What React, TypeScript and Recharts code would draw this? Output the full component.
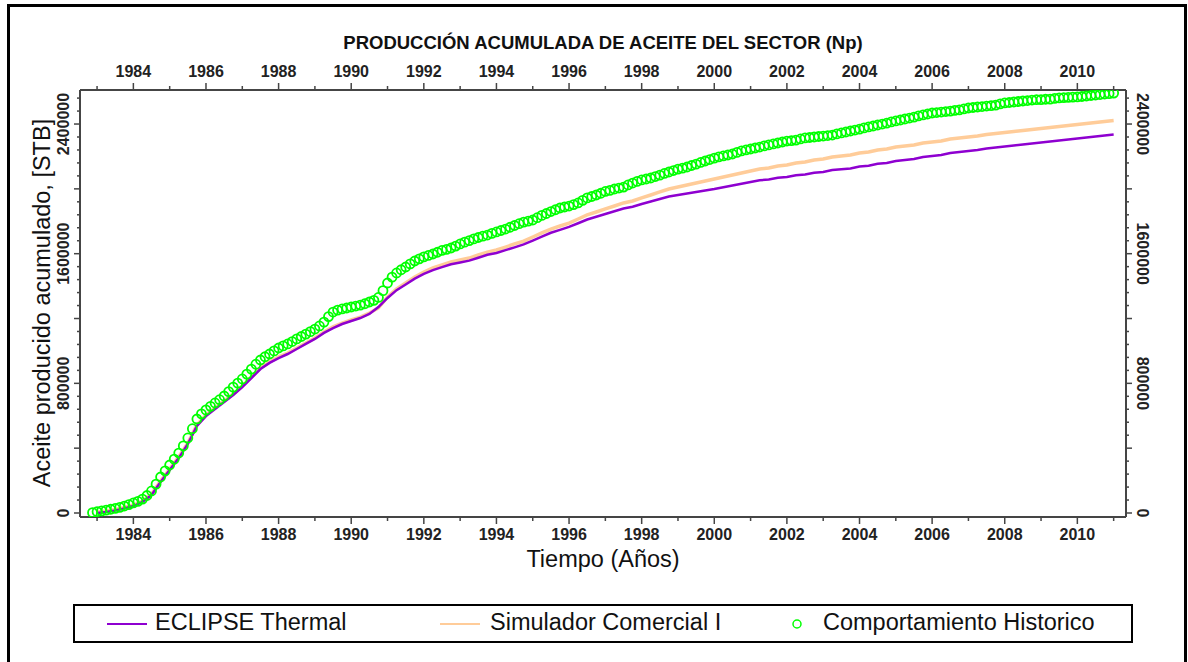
import { ComposedChart, Line, XAxis, YAxis } from "recharts";

// simulation output, quarterly, decimal years
const YEARS = [
  1983, 1983.25, 1983.5, 1983.75, 1984, 1984.25, 1984.5, 1984.75,
  1985, 1985.25, 1985.5, 1985.75, 1986, 1986.25, 1986.5, 1986.75,
  1987, 1987.25, 1987.5, 1987.75, 1988, 1988.25, 1988.5, 1988.75,
  1989, 1989.25, 1989.5, 1989.75, 1990, 1990.25, 1990.5, 1990.75,
  1991, 1991.25, 1991.5, 1991.75, 1992, 1992.25, 1992.5, 1992.75,
  1993, 1993.25, 1993.5, 1993.75, 1994, 1994.25, 1994.5, 1994.75,
  1995, 1995.25, 1995.5, 1995.75, 1996, 1996.25, 1996.5, 1996.75,
  1997, 1997.25, 1997.5, 1997.75, 1998, 1998.25, 1998.5, 1998.75,
  1999, 1999.25, 1999.5, 1999.75, 2000, 2000.25, 2000.5, 2000.75,
  2001, 2001.25, 2001.5, 2001.75, 2002, 2002.25, 2002.5, 2002.75,
  2003, 2003.25, 2003.5, 2003.75, 2004, 2004.25, 2004.5, 2004.75,
  2005, 2005.25, 2005.5, 2005.75, 2006, 2006.25, 2006.5, 2006.75,
  2007, 2007.25, 2007.5, 2007.75, 2008, 2008.25, 2008.5, 2008.75,
  2009, 2009.25, 2009.5, 2009.75, 2010, 2010.25, 2010.5, 2010.75,
  2011,
];

const ECLIPSE = [
  0, 6000, 15000, 28000, 43000, 68000, 111000, 191000,
  265000, 339000, 426000, 537000, 598000, 642000, 685000, 728000,
  777000, 833000, 888000, 926000, 956000, 981000, 1012000, 1043000,
  1074000, 1111000, 1141000, 1166000, 1185000, 1203000, 1228000, 1271000,
  1327000, 1375000, 1410000, 1446000, 1475000, 1499000, 1517000, 1535000,
  1546000, 1557000, 1575000, 1593000, 1604000, 1622000, 1639000, 1657000,
  1681000, 1705000, 1729000, 1747000, 1765000, 1788000, 1811000, 1828000,
  1845000, 1862000, 1879000, 1890000, 1907000, 1922000, 1937000, 1953000,
  1962000, 1971000, 1981000, 1990000, 1999000, 2010000, 2021000, 2031000,
  2042000, 2053000, 2058000, 2068000, 2073000, 2084000, 2089000, 2099000,
  2104000, 2116000, 2121000, 2126000, 2138000, 2143000, 2155000, 2160000,
  2172000, 2178000, 2184000, 2197000, 2203000, 2209000, 2221000, 2227000,
  2234000, 2240000, 2249000, 2255000, 2261000, 2268000, 2274000, 2280000,
  2286000, 2292000, 2298000, 2305000, 2311000, 2317000, 2323000, 2329000,
  2335000,
];

const COMERCIAL = [
  6000, 12000, 22000, 34000, 49000, 74000, 117000, 197000,
  271000, 346000, 432000, 543000, 605000, 648000, 691000, 734000,
  784000, 839000, 895000, 932000, 963000, 987000, 1018000, 1049000,
  1080000, 1117000, 1148000, 1172000, 1191000, 1209000, 1234000, 1265000,
  1333000, 1382000, 1419000, 1456000, 1487000, 1512000, 1530000, 1549000,
  1561000, 1573000, 1592000, 1610000, 1623000, 1641000, 1660000, 1678000,
  1703000, 1728000, 1752000, 1771000, 1789000, 1814000, 1839000, 1857000,
  1876000, 1894000, 1913000, 1925000, 1944000, 1962000, 1981000, 1999000,
  2011000, 2024000, 2036000, 2048000, 2061000, 2073000, 2085000, 2098000,
  2110000, 2122000, 2129000, 2141000, 2147000, 2159000, 2166000, 2178000,
  2184000, 2196000, 2203000, 2209000, 2221000, 2227000, 2240000, 2246000,
  2258000, 2264000, 2271000, 2283000, 2289000, 2295000, 2308000, 2314000,
  2320000, 2326000, 2335000, 2342000, 2348000, 2354000, 2360000, 2366000,
  2372000, 2379000, 2385000, 2391000, 2397000, 2403000, 2409000, 2416000,
  2422000,
];

// field history, every 1/8 year
const HIST_YEARS = [
  1982.875,
  1983, 1983.125, 1983.25, 1983.375, 1983.5, 1983.625, 1983.75, 1983.875,
  1984, 1984.125, 1984.25, 1984.375, 1984.5, 1984.625, 1984.75, 1984.875,
  1985, 1985.125, 1985.25, 1985.375, 1985.5, 1985.625, 1985.75, 1985.875,
  1986, 1986.125, 1986.25, 1986.375, 1986.5, 1986.625, 1986.75, 1986.875,
  1987, 1987.125, 1987.25, 1987.375, 1987.5, 1987.625, 1987.75, 1987.875,
  1988, 1988.125, 1988.25, 1988.375, 1988.5, 1988.625, 1988.75, 1988.875,
  1989, 1989.125, 1989.25, 1989.375, 1989.5, 1989.625, 1989.75, 1989.875,
  1990, 1990.125, 1990.25, 1990.375, 1990.5, 1990.625, 1990.75, 1990.875,
  1991, 1991.125, 1991.25, 1991.375, 1991.5, 1991.625, 1991.75, 1991.875,
  1992, 1992.125, 1992.25, 1992.375, 1992.5, 1992.625, 1992.75, 1992.875,
  1993, 1993.125, 1993.25, 1993.375, 1993.5, 1993.625, 1993.75, 1993.875,
  1994, 1994.125, 1994.25, 1994.375, 1994.5, 1994.625, 1994.75, 1994.875,
  1995, 1995.125, 1995.25, 1995.375, 1995.5, 1995.625, 1995.75, 1995.875,
  1996, 1996.125, 1996.25, 1996.375, 1996.5, 1996.625, 1996.75, 1996.875,
  1997, 1997.125, 1997.25, 1997.375, 1997.5, 1997.625, 1997.75, 1997.875,
  1998, 1998.125, 1998.25, 1998.375, 1998.5, 1998.625, 1998.75, 1998.875,
  1999, 1999.125, 1999.25, 1999.375, 1999.5, 1999.625, 1999.75, 1999.875,
  2000, 2000.125, 2000.25, 2000.375, 2000.5, 2000.625, 2000.75, 2000.875,
  2001, 2001.125, 2001.25, 2001.375, 2001.5, 2001.625, 2001.75, 2001.875,
  2002, 2002.125, 2002.25, 2002.375, 2002.5, 2002.625, 2002.75, 2002.875,
  2003, 2003.125, 2003.25, 2003.375, 2003.5, 2003.625, 2003.75, 2003.875,
  2004, 2004.125, 2004.25, 2004.375, 2004.5, 2004.625, 2004.75, 2004.875,
  2005, 2005.125, 2005.25, 2005.375, 2005.5, 2005.625, 2005.75, 2005.875,
  2006, 2006.125, 2006.25, 2006.375, 2006.5, 2006.625, 2006.75, 2006.875,
  2007, 2007.125, 2007.25, 2007.375, 2007.5, 2007.625, 2007.75, 2007.875,
  2008, 2008.125, 2008.25, 2008.375, 2008.5, 2008.625, 2008.75, 2008.875,
  2009, 2009.125, 2009.25, 2009.375, 2009.5, 2009.625, 2009.75, 2009.875,
  2010, 2010.125, 2010.25, 2010.375, 2010.5, 2010.625, 2010.75, 2010.875,
  2011,
];

const HISTORICO = [
  2000,
  8000, 13000, 18000, 23000, 28000, 35000, 43000, 52000,
  62000, 72000, 86000, 108000, 136000, 178000, 222000, 260000,
  296000, 332000, 370000, 414000, 463000, 520000, 580000, 612000,
  636000, 658000, 679000, 699000, 722000, 749000, 777000, 801000,
  827000, 857000, 888000, 918000, 944000, 964000, 981000, 1000000,
  1018000, 1031000, 1043000, 1058000, 1074000, 1089000, 1104000, 1119000,
  1135000, 1154000, 1178000, 1212000, 1240000, 1252000, 1259000, 1265000,
  1271000, 1277000, 1283000, 1291000, 1302000, 1312000, 1330000, 1372000,
  1419000, 1455000, 1481000, 1501000, 1518000, 1537000, 1555000, 1568000,
  1580000, 1589000, 1598000, 1609000, 1620000, 1627000, 1635000, 1647000,
  1660000, 1671000, 1681000, 1691000, 1700000, 1708000, 1715000, 1725000,
  1734000, 1743000, 1752000, 1763000, 1774000, 1785000, 1795000, 1801000,
  1808000, 1822000, 1836000, 1848000, 1860000, 1871000, 1882000, 1888000,
  1894000, 1903000, 1913000, 1929000, 1944000, 1953000, 1962000, 1973000,
  1984000, 1991000, 1999000, 2005000, 2011000, 2024000, 2036000, 2046000,
  2055000, 2061000, 2067000, 2076000, 2085000, 2095000, 2104000, 2113000,
  2122000, 2128000, 2135000, 2144000, 2153000, 2163000, 2172000, 2181000,
  2190000, 2197000, 2203000, 2209000, 2215000, 2225000, 2234000, 2240000,
  2246000, 2252000, 2258000, 2265000, 2271000, 2277000, 2283000, 2289000,
  2295000, 2298000, 2301000, 2308000, 2314000, 2317000, 2320000, 2323000,
  2326000, 2329000, 2332000, 2339000, 2345000, 2351000, 2357000, 2363000,
  2369000, 2376000, 2382000, 2388000, 2394000, 2400000, 2406000, 2413000,
  2419000, 2425000, 2431000, 2437000, 2443000, 2450000, 2456000, 2462000,
  2468000, 2471000, 2474000, 2477000, 2480000, 2484000, 2487000, 2493000,
  2499000, 2502000, 2505000, 2508000, 2511000, 2514000, 2517000, 2524000,
  2530000, 2533000, 2536000, 2539000, 2542000, 2545000, 2548000, 2550000,
  2551000, 2553000, 2554000, 2558000, 2561000, 2563000, 2564000, 2566000,
  2567000, 2570000, 2573000, 2576000, 2579000, 2582000, 2585000, 2588000,
  2591000,
];

const YEAR_LABELS = [1984, 1986, 1988, 1990, 1992, 1994, 1996, 1998, 2000, 2002, 2004, 2006, 2008, 2010];
const NP_LABELS = [0, 800000, 1600000, 2400000];
const SERIES = ["ECLIPSE Thermal", "Simulador Comercial I", "Comportamiento Historico"];
const COLORS = ["#8e00d0", "#ffcc99", "#00ff00"];

const TITLE = "PRODUCCIÓN ACUMULADA DE ACEITE DEL SECTOR (Np)";
const X_TITLE = "Tiempo (Años)";
const Y_TITLE = "Aceite producido acumulado, [STB]";

const AXIS = "#454545";
const FONT = "'Liberation Sans', Arial, sans-serif";

// yearly minor ticks, 80000 STB minor ticks
const X_TICKS: number[] = [];
for (let yr = 1983; yr <= 2011; yr++) X_TICKS.push(yr);
const Y_TICKS: number[] = [];
for (let v = 0; v <= 2560000; v += 80000) Y_TICKS.push(v);

const rows = YEARS.map((t, i) => ({
  t,
  eclipse: ECLIPSE[i],
  comercial: COMERCIAL[i],
}));
const histRows = HIST_YEARS.map((t, i) => ({ t, historico: HISTORICO[i] }));

function BottomTick({ x, y, payload }: any) {
  const major = YEAR_LABELS.includes(payload.value);
  return (
    <g>
      <line x1={x} x2={x} y1={y} y2={y + (major ? 7 : 4)} stroke={AXIS} strokeWidth={1.5} />
      {major && (
        <text x={x} y={y + 23} textAnchor="middle" fontSize={16} fontWeight="bold" fill="#222">
          {payload.value}
        </text>
      )}
    </g>
  );
}

function TopTick({ x, y, payload }: any) {
  const major = YEAR_LABELS.includes(payload.value);
  return (
    <g>
      <line x1={x} x2={x} y1={y} y2={y - (major ? 7 : 4)} stroke={AXIS} strokeWidth={1.5} />
      {major && (
        <text x={x} y={y - 13} textAnchor="middle" fontSize={16} fontWeight="bold" fill="#222">
          {payload.value}
        </text>
      )}
    </g>
  );
}

function LeftTick({ x, y, payload }: any) {
  const v = payload.value;
  const major = v % 400000 === 0;
  const tx = x - 11;
  return (
    <g>
      <line x1={x - (major ? 6 : 3)} x2={x} y1={y} y2={y} stroke={AXIS} strokeWidth={1.5} />
      {NP_LABELS.includes(v) && (
        <text x={tx} y={y} transform={`rotate(-90, ${tx}, ${y})`} textAnchor="middle" fontSize={16} fontWeight="bold" fill="#222">
          {v}
        </text>
      )}
    </g>
  );
}

function RightTick({ x, y, payload }: any) {
  const v = payload.value;
  const major = v % 400000 === 0;
  const tx = x + 11;
  return (
    <g>
      <line x1={x} x2={x + (major ? 6 : 3)} y1={y} y2={y} stroke={AXIS} strokeWidth={1.5} />
      {NP_LABELS.includes(v) && (
        <text x={tx} y={y} transform={`rotate(90, ${tx}, ${y})`} textAnchor="middle" fontSize={16} fontWeight="bold" fill="#222">
          {v}
        </text>
      )}
    </g>
  );
}

const xAxisCommon = {
  dataKey: "t",
  type: "number" as const,
  domain: [1982.53, 2011.34],
  allowDataOverflow: true,
  ticks: X_TICKS,
  interval: 0 as const,
  height: 20,
  tickSize: 0,
  tickMargin: 0,
  tickLine: false,
  axisLine: { stroke: AXIS, strokeWidth: 2 },
};

const yAxisCommon = {
  type: "number" as const,
  domain: [-24700, 2610000],
  allowDataOverflow: true,
  ticks: Y_TICKS,
  interval: 0 as const,
  width: 20,
  tickSize: 0,
  tickMargin: 0,
  tickLine: false,
  axisLine: { stroke: AXIS, strokeWidth: 2 },
};

export default function App() {
  return (
    <div
      style={{
        position: "absolute",
        left: 0,
        top: 0,
        width: 1188,
        height: 662,
        overflow: "hidden",
        background: "#fff",
        fontFamily: FONT,
      }}
    >
      <div
        style={{
          position: "absolute",
          left: 7,
          top: 4,
          width: 1174,
          height: 700,
          border: "3px solid #000",
        }}
      />
      <div
        style={{
          position: "absolute",
          left: 0,
          width: 1206,
          top: 32,
          textAlign: "center",
          fontSize: 18.5,
          fontWeight: "bold",
          color: "#111",
        }}
      >
        {TITLE}
      </div>

      <div style={{ position: "absolute", left: 0, top: 0 }}>
        <ComposedChart
          width={1188}
          height={662}
          data={rows}
          margin={{ top: 70, right: 42, bottom: 125, left: 60 }}
        >
          <XAxis xAxisId="b" orientation="bottom" {...xAxisCommon} tick={<BottomTick />} />
          <XAxis xAxisId="t" orientation="top" {...xAxisCommon} tick={<TopTick />} />
          <YAxis yAxisId="l" orientation="left" {...yAxisCommon} tick={<LeftTick />} />
          <YAxis yAxisId="r" orientation="right" {...yAxisCommon} tick={<RightTick />} />
          <Line
            xAxisId="b"
            yAxisId="l"
            dataKey="comercial"
            name={SERIES[1]}
            stroke={COLORS[1]}
            strokeWidth={3.5}
            dot={false}
            activeDot={false}
            isAnimationActive={false}
          />
          <Line
            xAxisId="b"
            yAxisId="l"
            dataKey="eclipse"
            name={SERIES[0]}
            stroke={COLORS[0]}
            strokeWidth={2.5}
            dot={false}
            activeDot={false}
            isAnimationActive={false}
          />
          <Line
            xAxisId="b"
            yAxisId="l"
            data={histRows}
            dataKey="historico"
            name={SERIES[2]}
            stroke="none"
            dot={{ r: 4.5, stroke: COLORS[2], strokeWidth: 1.8, fill: "none" }}
            activeDot={false}
            isAnimationActive={false}
          />
        </ComposedChart>
      </div>

      <div
        style={{
          position: "absolute",
          left: 0,
          width: 1206,
          top: 546,
          textAlign: "center",
          fontSize: 23.5,
          color: "#111",
        }}
      >
        {X_TITLE}
      </div>
      <div
        style={{
          position: "absolute",
          left: 42,
          top: 303,
          transform: "translate(-50%, -50%) rotate(-90deg)",
          whiteSpace: "nowrap",
          fontSize: 23.5,
          color: "#111",
        }}
      >
        {Y_TITLE}
      </div>

      {/* legend */}
      <div
        style={{
          position: "absolute",
          left: 73,
          top: 604,
          width: 1056,
          height: 35,
          border: "2px solid #000",
          fontSize: 23.5,
          color: "#111",
        }}
      >
        <svg width={1056} height={35} style={{ position: "absolute", left: 0, top: 0 }}>
          <line x1={32} x2={72} y1={18} y2={18} stroke={COLORS[0]} strokeWidth={2} />
          <line x1={365} x2={405} y1={18} y2={18} stroke={COLORS[1]} strokeWidth={2} />
          <circle cx={722} cy={18} r={4} stroke={COLORS[2]} strokeWidth={1.5} fill="none" />
        </svg>
        <span style={{ position: "absolute", left: 80, top: 3 }}>{SERIES[0]}</span>
        <span style={{ position: "absolute", left: 415, top: 3 }}>{SERIES[1]}</span>
        <span style={{ position: "absolute", left: 748, top: 3 }}>{SERIES[2]}</span>
      </div>
    </div>
  );
}
